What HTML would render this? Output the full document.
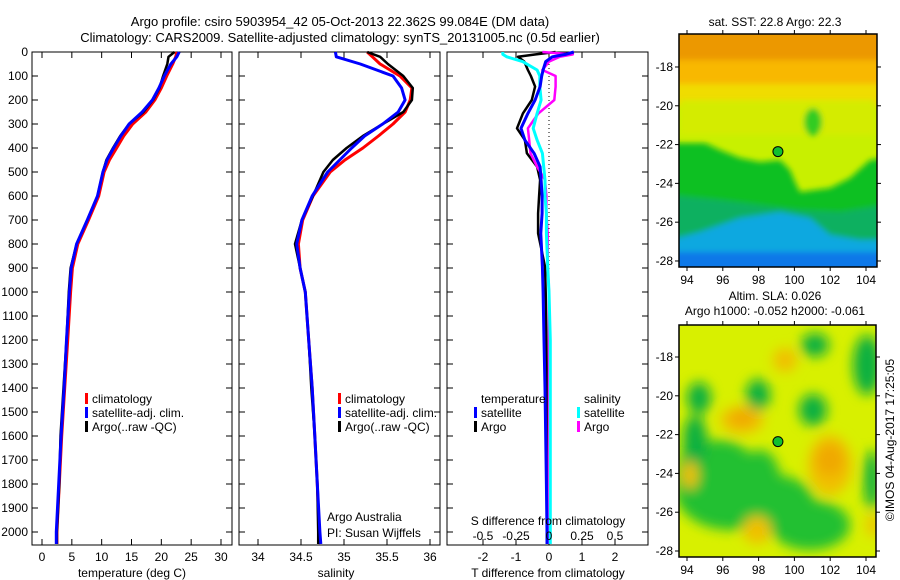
<!DOCTYPE html>
<html><head><meta charset="utf-8"><style>
body{margin:0;background:#fff;}
svg{display:block;font-family:"Liberation Sans",sans-serif;}
text{font-size:12px;fill:#000;}
</style></head><body>
<svg id="c" width="900" height="580">
<defs>
<filter id="bl" x="-30%" y="-30%" width="160%" height="160%"><feGaussianBlur stdDeviation="6"/></filter>
<filter id="bl2" x="-30%" y="-30%" width="160%" height="160%"><feGaussianBlur stdDeviation="3"/></filter>
<clipPath id="m1"><rect x="679" y="34" width="198" height="233"/></clipPath>
<clipPath id="m2"><rect x="679" y="325" width="197" height="232"/></clipPath>
</defs>
<text x="340" y="26" text-anchor="middle" style="font-size:13px">Argo profile: csiro 5903954_42 05-Oct-2013 22.362S 99.084E (DM data)</text>
<text x="340" y="42" text-anchor="middle" style="font-size:13px">Climatology: CARS2009. Satellite-adjusted climatology: synTS_20131005.nc (0.5d earlier)</text>
<g id="maps"></g>
<g id="plots"></g>
</svg>
<script>
// ---- data ----
const depths=[0,20,50,100,150,200,250,300,350,400,450,500,600,700,800,900,1000,1200,1400,1600,1800,2000,2050];
const tempClim=[22.6,22.4,21.9,20.9,20.0,18.9,17.4,15.2,13.7,12.5,11.3,10.4,9.5,7.8,6.0,5.1,4.8,4.3,3.8,3.3,2.9,2.5,2.5];
const tempSat=[23.0,22.6,21.6,20.5,19.6,18.5,16.8,14.6,13.2,12.0,10.9,10.2,9.3,7.6,5.8,4.9,4.6,4.1,3.7,3.2,2.8,2.4,2.4];
const tempArgo=[22.2,21.2,21.0,20.3,19.7,18.6,17.0,14.6,13.1,11.9,10.8,10.2,9.3,7.6,5.8,4.8,4.5,4.1,3.6,3.1,2.9,2.5,2.5];
const salClim=[35.27,35.33,35.42,35.65,35.79,35.77,35.71,35.57,35.40,35.22,35.01,34.84,34.64,34.52,34.47,34.49,34.55,34.59,34.63,34.66,34.69,34.71,34.72];
const salSat=[34.90,34.91,35.19,35.57,35.67,35.71,35.63,35.45,35.24,35.09,34.95,34.81,34.63,34.51,34.45,34.49,34.55,34.59,34.63,34.66,34.69,34.72,34.73];
const salArgo=[35.27,35.42,35.51,35.69,35.80,35.79,35.69,35.45,35.22,35.03,34.87,34.76,34.64,34.51,34.43,34.49,34.55,34.59,34.62,34.66,34.69,34.70,34.70];
const diffDepths=[0,10,20,40,75,100,144,200,256,318,367,422,478,533,600,672,756,894,1000,1200,1400,1600,1800,2000,2050];
const dTArgo=[0.2,-0.4,-0.94,-0.75,-0.64,-0.55,-0.42,-0.52,-0.79,-0.97,-0.73,-0.67,-0.36,-0.27,-0.3,-0.33,-0.33,-0.12,-0.1,-0.08,-0.06,-0.06,-0.05,-0.05,-0.05];
const dTSat=[0.75,0.5,0.1,-0.1,-0.18,-0.22,-0.27,-0.42,-0.64,-0.85,-0.73,-0.45,-0.27,-0.24,-0.21,-0.21,-0.25,-0.2,-0.18,-0.15,-0.12,-0.1,-0.08,-0.06,-0.06];
const dSSat=[-0.35,-0.35,-0.32,-0.2,-0.09,-0.07,-0.07,-0.06,-0.09,-0.12,-0.09,-0.05,-0.04,-0.03,-0.03,-0.02,-0.02,-0.01,0,0.01,0.01,0.01,0.01,0.01,0.01];
const dSArgo=[-0.05,0.18,0.08,0,-0.05,0.05,0.05,0.04,-0.08,-0.16,-0.15,-0.14,-0.09,-0.03,-0.02,-0.02,-0.01,-0.01,0,0,0,0,0,0,0];
const depthTicks=[0,100,200,300,400,500,600,700,800,900,1000,1100,1200,1300,1400,1500,1600,1700,1800,1900,2000];
const tempTicks=[0,5,10,15,20,25,30];
const salTicks=[34,34.5,35,35.5,36];
const salTickLabels=["34","34.5","35","35.5","36"];
const dTTicks=[-2,-1,0,1,2];
const dSTicks=[-0.5,-0.25,0,0.25,0.5];
const dSTickLabels=["-0.5","-0.25","0","0.25","0.5"];
const lonTicks=[94,96,98,100,102,104];
const latTicks=[-18,-20,-22,-24,-26,-28];
const argoLon=99.08, argoLat=-22.36;

const NS="http://www.w3.org/2000/svg";
function mk(tag,attrs,parent){const e=document.createElementNS(NS,tag);for(const k in attrs)e.setAttribute(k,attrs[k]);parent.appendChild(e);return e;}
const P=document.getElementById('plots');
const M=document.getElementById('maps');
const TOP=52,BOT=545;
const yD=d=>TOP+d*0.24;
const xT=v=>42+v*179/30;
const xS=v=>258+(v-34)*86;
const xdT=v=>549+v*33;
const xdS=v=>549+v*132;

function frame(x0,x1,name){
  const r=mk('rect',{x:x0,y:TOP,width:x1-x0,height:BOT-TOP,fill:'none',stroke:'#000','stroke-width':1},P);
  
  
  depthTicks.forEach(d=>{
    mk('line',{x1:x0,x2:x0+6,y1:yD(d),y2:yD(d),stroke:'#000'},P);
    mk('line',{x1:x1-6,x2:x1,y1:yD(d),y2:yD(d),stroke:'#000'},P);
  });
}
function xticks(vals,labels,fx,x0,x1,name){
  vals.forEach((v,i)=>{
    const x=fx(v);
    mk('line',{x1:x,x2:x,y1:BOT,y2:BOT-6,stroke:'#000'},P);
    mk('line',{x1:x,x2:x,y1:TOP,y2:TOP+6,stroke:'#000'},P);
    const t=mk('text',{x:x,y:561,'text-anchor':'middle'},P);t.textContent=labels[i];
    
    
  });
}
function line(xs,ys,fx,color,w,name){
  const pts=xs.map((v,i)=>fx(v).toFixed(1)+','+yD(ys[i]).toFixed(1)).join(' ');
  const p=mk('polyline',{points:pts,fill:'none',stroke:color,'stroke-width':w,'stroke-linejoin':'round'},P);
  
  
}
function label(x,y,s,name,anchor,size){
  const t=mk('text',{x:x,y:y,'text-anchor':anchor||'start'},P);t.textContent=s;
  if(size)t.setAttribute('style','font-size:'+size+'px');
  
  
  return t;
}
function legend(x,y,color,s,name){
  const r=mk('rect',{x:x,y:y-10,width:3,height:11,fill:color},P);
  
  
  label(x+7,y,s,name);
}

// panel 1 temperature
frame(32,232,'temperature-panel');
depthTicks.forEach(d=>{const t=label(28,yD(d)+4,String(d),'depth-tick-label','end');});
xticks(tempTicks,tempTicks.map(String),xT,32,232,'temperature');
line(tempClim,depths,xT,'#ff0000',3,'temp-climatology-line');
line(tempArgo,depths,xT,'#000000',2.5,'temp-argo-line');
line(tempSat,depths,xT,'#0000ff',3,'temp-satellite-line');
label(132,577,'temperature (deg C)','temperature-axis-title','middle');
legend(85,403,'#ff0000','climatology','legend-climatology');
legend(85,417,'#0000ff','satellite-adj. clim.','legend-satellite-clim');
legend(85,431,'#000000','Argo(..raw -QC)','legend-argo');

// panel 2 salinity
frame(239,440,'salinity-panel');
xticks(salTicks,salTickLabels,xS,239,440,'salinity');
line(salClim,depths,xS,'#ff0000',3,'sal-climatology-line');
line(salArgo,depths,xS,'#000000',2.5,'sal-argo-line');
line(salSat,depths,xS,'#0000ff',3,'sal-satellite-line');
label(336,577,'salinity','salinity-axis-title','middle');
legend(338,403,'#ff0000','climatology','legend-climatology-2');
legend(338,417,'#0000ff','satellite-adj. clim.','legend-satellite-clim-2');
legend(338,431,'#000000','Argo(..raw -QC)','legend-argo-2');
label(327,521,'Argo Australia','institution-label');
label(327,537,'PI: Susan Wijffels','pi-label');

// panel 3 differences
frame(447,648,'difference-panel');
xticks(dTTicks,dTTicks.map(String),xdT,447,648,'t-difference');
mk('line',{x1:xdT(0),x2:xdT(0),y1:TOP,y2:BOT,stroke:'#000','stroke-dasharray':'1,3'},P);
line(dTArgo,diffDepths,xdT,'#000000',2.5,'dT-argo-line');
line(dSArgo,diffDepths,xdS,'#ff00ff',2.5,'dS-argo-line');
line(dSSat,diffDepths,xdS,'#00ffff',3,'dS-satellite-line');
line(dTSat,diffDepths,xdT,'#0000ff',3,'dT-satellite-line');
label(548,577,'T difference from climatology','t-diff-axis-title','middle');
label(548,525,'S difference from climatology','s-diff-axis-title','middle');
dSTicks.forEach((v,i)=>label(xdS(v),540,dSTickLabels[i],'s-diff-tick-label','middle'));
label(481,403,'temperature','legend-temperature-header');
label(584,403,'salinity','legend-salinity-header');
legend(474,417,'#0000ff','satellite','legend-t-satellite');
legend(474,431,'#000000','Argo','legend-t-argo');
legend(577,417,'#00ffff','satellite','legend-s-satellite');
legend(577,431,'#ff00ff','Argo','legend-s-argo');

// ---- maps ----
function mapAxes(x0,y0,x1,y1,latTop,pxLat,name){
  const lonX=v=>687+(v-94)*17.9;
  const latY=v=>y0+(latTop-v)*pxLat;
  const r=mk('rect',{x:x0,y:y0,width:x1-x0,height:y1-y0,fill:'none',stroke:'#000','stroke-width':1.5},M);
  
  
  lonTicks.forEach(v=>{
    const x=lonX(v);
    mk('line',{x1:x,x2:x,y1:y1,y2:y1+4,stroke:'#000'},M);
    mk('line',{x1:x,x2:x,y1:y0,y2:y0-4,stroke:'#000'},M);
    const t=mk('text',{x:x,y:y1+17,'text-anchor':'middle'},M);t.textContent=String(v);
    
    
  });
  latTicks.forEach(v=>{
    const y=latY(v);
    mk('line',{x1:x0-4,x2:x0,y1:y,y2:y,stroke:'#000'},M);
    mk('line',{x1:x1,x2:x1+4,y1:y,y2:y,stroke:'#000'},M);
    const t=mk('text',{x:x0-6,y:y+4,'text-anchor':'end'},M);t.textContent=String(v);
    
    
  });
  const c=mk('circle',{cx:lonX(argoLon),cy:latY(argoLat),r:5,fill:'#10c030',stroke:'#000','stroke-width':1},M);
  
  
}
// SST map
const g1=mk('g',{'clip-path':'url(#m1)'},M);


mk('rect',{x:679,y:34,width:198,height:233,fill:'#c8f000'},g1);
const gb=mk('g',{filter:'url(#bl2)'},g1);
mk('rect',{x:670,y:25,width:215,height:40,fill:'#ec9800'},gb);
mk('rect',{x:670,y:60,width:215,height:28,fill:'#f8b800'},gb);
mk('rect',{x:670,y:84,width:215,height:22,fill:'#f0dc00'},gb);
mk('rect',{x:680,y:100,width:195,height:35,fill:'#d4ec00'},gb);
mk('polygon',{points:'670,143 705,143 720,150 740,158 760,162 780,160 790,170 795,182 800,192 830,188 850,178 870,160 885,158 885,300 670,300',fill:'#10c020'},gb);
mk('polygon',{points:'670,195 720,200 760,205 800,210 840,212 885,205 885,300 670,300',fill:'#10b060'},gb);
mk('polygon',{points:'670,240 700,232 740,218 780,212 810,218 830,235 860,240 885,240 885,300 670,300',fill:'#10a8e0'},gb);
mk('rect',{x:670,y:252,width:215,height:20,fill:'#1078e8'},gb);
mk('ellipse',{cx:813,cy:122,rx:9,ry:14,fill:'#30cc20'},gb);
// SLA map
const g2=mk('g',{'clip-path':'url(#m2)'},M);


mk('rect',{x:679,y:325,width:197,height:232,fill:'#d8f000'},g2);
const gs=mk('g',{filter:'url(#bl)'},g2);
[[730,490,55,40],[720,470,35,30],[775,505,40,30],[810,525,40,25],[700,480,25,40],[760,480,20,30]].forEach(e=>mk('ellipse',{cx:e[0],cy:e[1],rx:e[2],ry:e[3],fill:'#20c030'},gs));
[[699,398,12,16],[758,395,12,16],[813,410,14,16],[867,365,14,30],[815,345,14,12],[872,480,8,30],[695,440,12,25]].forEach(e=>mk('ellipse',{cx:e[0],cy:e[1],rx:e[2],ry:e[3],fill:'#10b040'},gs));
[[742,420,22,14],[785,360,12,12],[830,465,22,30],[690,475,8,14],[757,530,14,14],[873,525,6,12]].forEach(e=>mk('ellipse',{cx:e[0],cy:e[1],rx:e[2],ry:e[3],fill:'#f0c000'},gs));
[[830,460,14,16],[742,418,12,8]].forEach(e=>mk('ellipse',{cx:e[0],cy:e[1],rx:e[2],ry:e[3],fill:'#f0a800'},gs));
mapAxes(679,34,877,267,-16.3,19.4,'sst-map');
mapAxes(679,325,876,557,-16.35,19.4,'sla-map');
function mtext(x,y,s,name){const t=mk('text',{x:x,y:y,'text-anchor':'middle'},M);t.textContent=s;
}
mtext(775,26,'sat. SST: 22.8 Argo: 22.3','sst-map-title');
mtext(775,300,'Altim. SLA: 0.026','sla-map-title');
mtext(775,315,'Argo h1000: -0.052 h2000: -0.061','argo-height-label');
const cr=mk('text',{x:0,y:0,'text-anchor':'middle',transform:'translate(894,440) rotate(-90)'},M);
cr.textContent='©IMOS 04-Aug-2017 17:25:05';


</script>
</body></html>
